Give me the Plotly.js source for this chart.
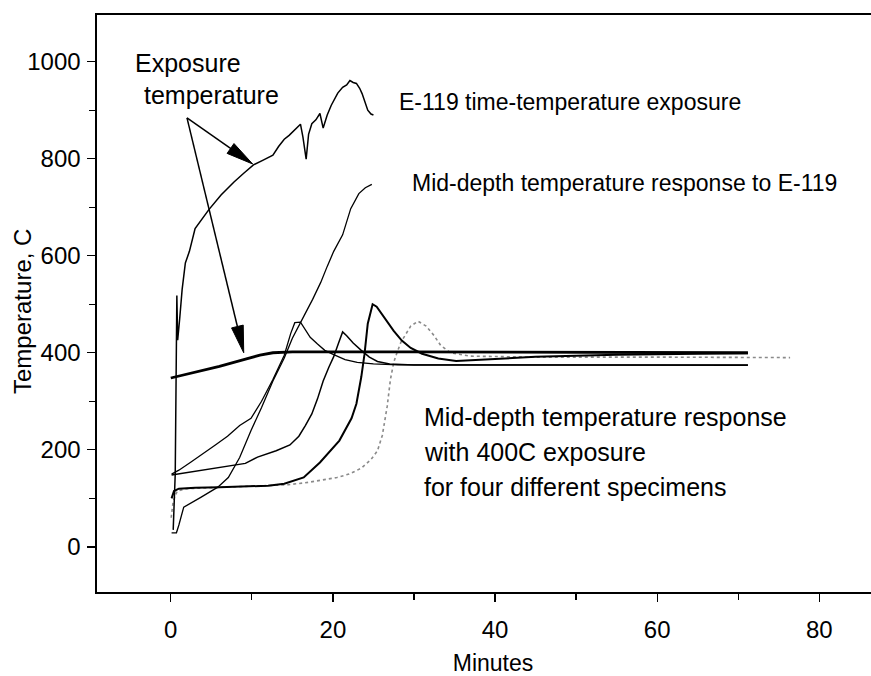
<!DOCTYPE html>
<html><head><meta charset="utf-8">
<script src="https://cdn.plot.ly/plotly-3.0.1.min.js"></script>
<style>html,body{margin:0;padding:0;overflow:hidden;background:#fff;width:871px;height:676px}</style>
</head><body><div id="chart" style="width:890px;height:676px"></div>
<script>
// E-119 time-temperature exposure
const e119Time = [0.3,0.55,0.75,0.85,1.1,1.4,1.8,2.3,3.0,3.8,4.7,6.2,7.8,9.0,10.2,11.4,12.6,13.3,14.0,14.6,15.3,16.0,16.3,16.7,17.0,17.4,17.9,18.4,18.8,19.3,19.8,20.1,20.6,21.2,21.7,22.1,22.5,22.9,23.3,23.6,24.0,24.3,24.7,25.0];
const e119Temp = [35,150,518,426,470,530,585,609,656,675,695,725,752,770,787,797,807,825,840,848,860,871,845,799,850,872,880,893,863,890,910,920,935,947,952,961,957,955,945,934,915,900,892,890];
// Mid-depth response to E-119
const midE119Time = [0.1,0.7,1.0,1.6,3.7,5.8,7.1,8.5,9.9,11.2,12.6,14.0,15.0,16.0,16.5,17.5,18.5,19.3,20.1,21.2,22.2,23.2,24.0,24.8];
const midE119Temp = [29,29,45,82,102,123,143,184,240,287,342,389,430,460,478,510,545,578,609,643,697,728,740,747];
// 400C exposure temperature
const exp400Time = [0,3,6,9,11,12.6,15,30,50,71.2];
const exp400Temp = [348,360,372,386,395,400,402,402,401,400];
// Specimen A
const specATime = [0.1,1,2.5,4,5.5,7,8.5,9.9,11.2,12.6,14.0,14.8,15.3,16.0,16.5,17.2,18.1,19.0,20.1,21.5,23.0,25.0,28.0,40.0,71.2];
const specATemp = [150,158,175,192,210,228,250,265,300,345,395,440,462,463,450,432,418,405,396,386,380,377,375,375,375];
// Specimen B
const specBTime = [0.1,2,4,6,7.5,9.2,10.7,13,14.7,15.8,16.6,17.4,18.1,18.8,19.5,20.1,20.7,21.2,21.7,22.5,23.5,24.5,25.5,27,30,50,71.2];
const specBTemp = [148,153,158,163,167,172,185,198,210,228,250,274,305,342,370,392,420,443,435,420,405,391,382,377,375,375,374];
// Specimen C
const specCTime = [0.1,0.4,1,3,6,9,12,14,16.4,18.4,20.8,22.3,22.9,23.5,23.9,24.3,24.9,25.4,26.2,27.5,28.5,29.6,31,33,35.2,37,40,45,55,65,71.2];
const specCTemp = [100,115,120,122,123,124,126,130,143,174,219,265,295,350,397,460,500,495,475,445,425,410,398,388,383,384,387,392,396,398,399];
// Specimen D
const specDTime = [0.05,0.3,0.8,2,5,9,12,14.5,17,19,20.5,22,23.5,24.7,25.5,26.1,26.7,27.1,27.5,27.9,28.4,29.6,30.5,31.5,32.5,33.3,34.5,37,45,60,76.4];
const specDTemp = [60,95,115,120,122,124,126,128,133,138,143,150,162,180,198,230,290,345,380,400,422,455,465,455,435,415,400,393,391,391,390];

const xRange = [-9.1, 88.6];
const yRange = [-93, 1096];
const xTicks = [0,20,40,60,80];
const yTicks = [0,200,400,600,800,1000];

const FONT = '"Liberation Sans", Arial, Helvetica, sans-serif';
const W = 890, H = 676;
const M = {l:97, r:1, t:15, b:84};

function line(x, y, w, extra) {
  return Object.assign({type:'scatter', mode:'lines', x:x, y:y, hoverinfo:'skip',
    line:{color:'#000', width:w, shape:'linear'}, showlegend:false}, extra||{});
}
const traces = [
  line(specDTime, specDTemp, 1.6, {line:{color:'#8a8a8a', width:1.6, dash:'dot'}}),
  line(exp400Time, exp400Temp, 2.8),
  line(specATime, specATemp, 1.3),
  line(specBTime, specBTemp, 1.5),
  line(specCTime, specCTemp, 2.0),
  line(midE119Time, midE119Temp, 1.3),
  line(e119Time, e119Temp, 1.5)
];

// arrows: tail and tips in data units
const arrowTail = [2.0, 884];
const arrowTips = [[10.1, 789],[9.0, 400]];
const plotW = W - M.l - M.r, plotH = H - M.t - M.b;
const kx = plotW/(xRange[1]-xRange[0]), ky = plotH/(yRange[1]-yRange[0]);
const shapes = [];
const annotations = [];
arrowTips.forEach(tip => {
  const dx = (tip[0]-arrowTail[0])*kx, dy = (tip[1]-arrowTail[1])*ky;
  const len = Math.hypot(dx, dy), ux = dx/len, uy = dy/len;
  const L = 27, Wd = 12;
  const bx = -L*ux, by = -L*uy;
  const px = -uy*Wd/2, py = ux*Wd/2;
  const p1 = [tip[0]+(bx+px)/kx, tip[1]+(by+py)/ky];
  const p2 = [tip[0]+(bx-px)/kx, tip[1]+(by-py)/ky];
  const mid = [tip[0]+bx/kx, tip[1]+by/ky];
  shapes.push({type:'line', xref:'x', yref:'y', x0:arrowTail[0], y0:arrowTail[1], x1:mid[0], y1:mid[1], line:{color:'#000', width:1.5}});
  shapes.push({type:'path', xref:'x', yref:'y', path:`M${tip[0]},${tip[1]} L${p1[0]},${p1[1]} L${p2[0]},${p2[1]} Z`, fillcolor:'#000', line:{color:'#000', width:1}});
});

function txt(t, x, y, size) {
  return {text:t, x:x, y:y, xref:'x', yref:'y', xanchor:'left', yanchor:'middle', showarrow:false,
    font:{family:FONT, size:size, color:'#000'}};
}
annotations.push(txt('Exposure', -4.66, 997, 25));
annotations.push(txt('temperature', -3.55, 931, 25));
annotations.push(txt('E-119 time-temperature exposure', 27.9, 917, 23));
annotations.push(txt('Mid-depth temperature response to E-119', 29.5, 750, 23));
annotations.push(txt('Mid-depth temperature response', 31.0, 268, 25));
annotations.push(txt('with 400C exposure', 31.0, 196, 25));
annotations.push(txt('for four different specimens', 31.0, 124, 25));
// y-axis title, placed to overlap the tick-label column like the original
annotations.push({text:'Temperature, C', xref:'paper', yref:'paper', x:(22-M.l)/plotW, y:(H-M.b-312)/plotH,
  xanchor:'center', yanchor:'middle', textangle:-90, showarrow:false,
  font:{family:FONT, size:24, color:'#000'}});

const layout = {
  width:W, height:H, margin:M, paper_bgcolor:'#fff', plot_bgcolor:'#fff',
  showlegend:false,
  font:{family:FONT, color:'#000'},
  xaxis:{range:xRange, tickvals:xTicks, ticktext:xTicks.map(String), ticks:'outside', ticklen:8, tickwidth:1.3, tickcolor:'#000',
    minor:{tickvals:[10,30,50,70], ticks:'outside', ticklen:6, tickwidth:1.2, tickcolor:'#000'},
    showline:true, linecolor:'#000', linewidth:1.6, mirror:true, showgrid:false, zeroline:false,
    tickfont:{family:FONT, size:24, color:'#000'}, ticklabelstandoff:8,
    title:{text:'Minutes', font:{family:FONT, size:23, color:'#000'}, standoff:13}},
  yaxis:{range:yRange, tickvals:yTicks, ticktext:yTicks.map(String), ticks:'outside', ticklen:8, tickwidth:1.3, tickcolor:'#000',
    minor:{tickvals:[100,300,500,700,900], ticks:'outside', ticklen:6, tickwidth:1.2, tickcolor:'#000'},
    showline:true, linecolor:'#000', linewidth:1.6, mirror:false, showgrid:false, zeroline:false,
    tickfont:{family:FONT, size:24, color:'#000'}, ticklabelstandoff:2},
  shapes:shapes, annotations:annotations
};
Plotly.newPlot('chart', traces, layout, {staticPlot:true, displayModeBar:false});
</script></body></html>
